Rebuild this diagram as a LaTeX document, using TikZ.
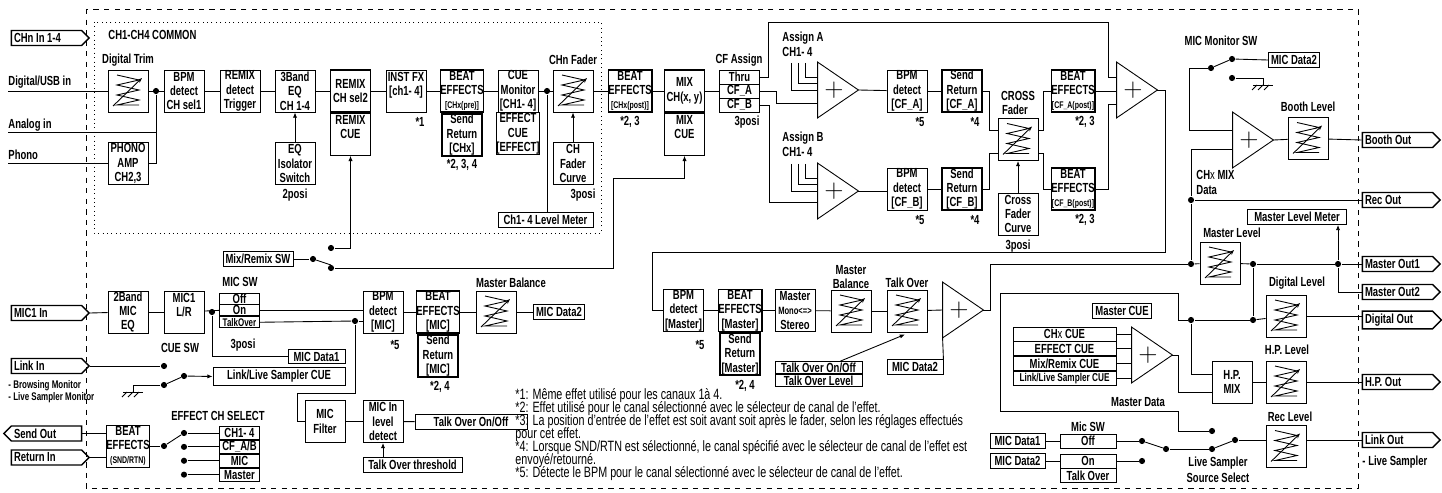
\documentclass[tikz,border=0pt]{standalone}
\usepackage{fontspec}
\setmainfont{Liberation Sans}[FakeStretch=0.72]
\usetikzlibrary{arrows.meta,calc,positioning,shapes.symbols}
\newcommand\fs{\fontsize{7.5}{8.2}\selectfont\bfseries}
\newcommand\tn{\fontsize{5.5}{6}\selectfont}
\newcommand\fnt{\fontsize{8.5}{9}\selectfont}
\newcommand\sumnode[2]{%
  \node[sumbox] (#1) at (#2) {};
  \draw (#1.north west) -- (#1.south west) -- (#1.east) -- cycle;
  \node[font=\Large] at ($(#1.center)+(-4,0)$) {$+$};}
\newcommand\gnd[1]{%
  \draw ($(#1)+(-10,0)$) -- ($(#1)+(10,0)$);
  \foreach \i in {-6,0,6} \draw ($(#1)+(\i,0)$) -- ++(-5,5);}
\tikzset{
  blk/.style={draw, minimum width=0.8cm, minimum height=0.84cm, inner sep=0pt, align=center, font=\fs},
  tblk/.style={blk, line width=1pt},
  row/.style={draw, minimum width=0.8cm, minimum height=0.28cm, inner sep=0pt, font=\fs},
  lab/.style={draw, inner sep=1.5pt, minimum height=0.25cm, font=\fs},
  txt/.style={inner sep=0pt, font=\fs, align=center},
  tag/.style={shape=signal, signal to=east, draw, line width=0.8pt, minimum height=0.3cm,
    text width=1.3cm, inner sep=1.5pt, font=\fs, align=flush left},
  dot/.style={circle, fill, inner sep=0pt, minimum size=3.5pt},
  sumbox/.style={minimum width=0.8cm, minimum height=1.1cm, inner sep=0pt},
  arr/.style={-{Latex[length=3pt,width=2.4pt]}},
  fader/.style={blk, path picture={
    \draw ([shift={(-11,-16)}]path picture bounding box.center) -- ++(22,5) -- ++(-22,5)
      -- ++(22,5) -- ++(-22,5) -- ++(22,5) -- ++(-22,5) -- ++(22,0);
    \draw[-{Stealth[length=3pt]}] ([shift={(-15,15)}]path picture bounding box.center)
      -- ([shift={(14,-13)}]path picture bounding box.center);}},
}
\begin{document}
\begin{tikzpicture}[x=0.02cm, y=-0.02cm, line width=0.5pt]
\useasboundingbox (0,0) rectangle (1442,493);
\draw[dashed] (86,9) rectangle (1358,488);
\draw[dotted] (94,22) rectangle (601,233);

% channel strip
\node[txt, anchor=west] at (108,35) {CH1-CH4 COMMON};
\node[tag] (chin) at (46.5,38) {CHn In 1-4};
\node[txt, anchor=west] at (8,82) {Digital/USB in};
\node[txt, anchor=west] at (8,125) {Analog in};
\node[txt, anchor=west] at (8,155) {Phono};
\coordinate (usbin) at (8,91);
\coordinate (anain) at (8,132);
\coordinate (phin) at (8,163.5);
\node[fader] (dtrim) at (128,91) {};
\node[txt] at (128,60) {Digital Trim};
\node[blk] (phono) at (128,163.5) {PHONO\\AMP\\CH2,3};
\node[dot] (j1) at (156,91) {};
\node[blk] (bpm1) at (184,91) {BPM\\detect\\CH sel1};
\node[blk] (rmxt) at (240,91) {REMIX\\detect\\Trigger};
\node[blk] (eq3) at (295,91) {3Band\\EQ\\CH 1-4};
\node[blk] (eqiso) at (295,163.5) {EQ\\Isolator\\Switch};
\node[txt] at (295,195) {2posi};
\node[tblk] (rmxa) at (350.5,91) {REMIX\\CH sel2};
\node[blk, below=0pt of rmxa] (rmxb) {REMIX\\CUE\\\phantom{X}};
\node[blk] (instfx) at (406,91) {INST FX\\{}[ch1- 4]\\\phantom{X}};
\node[txt] at (420,122) {*1};
\node[tblk] (bfxpre) at (462,91) {BEAT\\EFFECTS\\{\tn[CHx(pre)]}};
\node[tblk, below=0pt of bfxpre] (srpre) {Send\\Return\\{}[CHx]};
\node[txt] at (462,165) {*2, 3, 4};
\node[blk] (cuemon) at (518,91) {CUE\\Monitor\\{}[CH1- 4]};
\node[blk, below=0pt of cuemon] (effcue) {EFFECT\\CUE\\{}[EFFECT]};
\node[dot] (j2) at (547,91) {};
\node[fader] (chfad) at (573,91) {};
\node[txt] at (573,60) {CHn Fader};
\node[blk] (chcurve) at (573,163.5) {CH\\Fader\\Curve};
\node[txt] at (583,195) {3posi};
\node[lab, minimum width=1.9cm] (lvlm) at (545.5,220) {Ch1- 4 Level Meter};
\node[tblk] (bfxpost) at (630,91) {BEAT\\EFFECTS\\{\tn[CHx(post)]}};
\node[txt] at (630,122) {*2, 3};
\node[tblk] (mix) at (684.5,91) {MIX\\CH(x, y)};
\node[blk, below=0pt of mix] (mixcue) {MIX\\CUE\\\phantom{X}};
\node[row] (thru) at (739.5,77) {Thru};
\node[row] (cfA) at (739.5,91) {CF\_A};
\node[row] (cfB) at (739.5,105) {CF\_B};
\node[txt] at (739,60) {CF Assign};
\node[txt] at (747,122) {3posi};

\draw (usbin) -- (dtrim.west);
\draw (anain) -- (anain -| j1);
\draw (phin) -- (phono.west);
\draw (dtrim) -- (bpm1);
\draw (j1) |- (phono.east);
\draw (bpm1) -- (rmxt);
\draw (rmxt) -- (eq3);
\draw (eq3) -- (rmxa);
\draw (rmxa) -- (instfx);
\draw (instfx) -- (bfxpre);
\draw (bfxpre) -- (cuemon);
\draw (cuemon) -- (chfad);
\draw (j2) -- (j2 |- lvlm.north);
\draw (chfad) -- (bfxpost);
\draw (bfxpost) -- (mix);
\draw (mix) -- (cfA);
\draw[arr] (eqiso) -- (eq3);
\draw[arr] (chcurve) -- (chfad);

% crossfader section
\node[txt, anchor=west] at (782,38) {Assign A};
\node[txt, anchor=west] at (782,52) {CH1- 4};
\node[txt, anchor=west] at (782,138) {Assign B};
\node[txt, anchor=west] at (782,152) {CH1- 4};
\sumnode{sumA}{838,90}
\sumnode{sumB}{838,191}
\node[blk] (bpmA) at (907,91) {BPM\\detect\\{}[CF\_A]};
\node[blk] (bpmB) at (907,189) {BPM\\detect\\{}[CF\_B]};
\node[txt] at (920,122) {*5};
\node[txt] at (920,220) {*5};
\node[tblk] (srA) at (962,91) {Send\\Return\\{}[CF\_A]};
\node[tblk] (srB) at (962,189) {Send\\Return\\{}[CF\_B]};
\node[txt] at (975,122) {*4};
\node[txt] at (975,220) {*4};
\node[fader] (xf) at (1018,139.5) {};
\node[txt] at (1018,96) {CROSS};
\node[txt] at (1015,110) {Fader};
\node[blk] (xfc) at (1018,214) {Cross\\Fader\\Curve};
\node[txt] at (1018,246) {3posi};
\node[tblk] (bfxA) at (1073,91) {BEAT\\EFFECTS\\{\tn[CF\_A(post)]}};
\node[tblk] (bfxB) at (1073,189) {BEAT\\EFFECTS\\{\tn[CF\_B(post)]}};
\node[txt] at (1085,122) {*2, 3};
\node[txt] at (1085,220) {*2, 3};
\sumnode{sumM}{1137,90}

\draw (thru.east) -| (768,22) -| ($(sumM.west)+(-8,-13)$) -- ($(sumM.west)+(0,-13)$);
\draw (cfA.east) -| (776,103) -- ($(sumA.west)+(0,13)$);
\draw (cfB.east) -| (769,202) -- ($(sumB.west)+(0,11)$);
\foreach \x/\d in {791/0,798/-7,805/-13} {
  \draw (\x,63) |- ($(sumA.west)+(0,\d)$);
  \draw (\x,164) |- ($(sumB.west)+(0,\d)$);
}
\draw (sumA.east) -- (bpmA);
\draw (sumB.east) -- (bpmB.west |- sumB.east);
\draw (bpmA) -- (srA);
\draw (bpmB) -- (srB);
\draw (srA.east) -| ($(xf.west)+(-8,-9)$) -- ($(xf.west)+(0,-9)$);
\draw (srB.east) -| ($(xf.west)+(-8,14)$) -- ($(xf.west)+(0,14)$);
\draw ($(xf.east)+(0,-9)$) -| ($(bfxA.west)+(-7,0)$) -- (bfxA.west);
\draw ($(xf.east)+(0,14)$) -| ($(bfxB.west)+(-7,0)$) -- (bfxB.west);
\draw[arr] (xfc) -- (xf);
\draw (bfxA.east) -- (bfxA.east -| sumM.west);
\draw (bfxB.east) -| ($(sumM.west)+(-8,14)$) -- ($(sumM.west)+(0,14)$);

% master chain
\node[blk] (bpmM) at (683.5,310.5) {BPM\\detect\\{}[Master]};
\node[txt] at (700,345) {*5};
\node[tblk] (bfxM) at (740,310.5) {BEAT\\EFFECTS\\{}[Master]};
\node[tblk, below=0pt of bfxM] (srM) {Send\\Return\\{}[Master]};
\node[txt] at (745,386) {*2, 4};
\node[blk] (mono) at (795,310.5) {Master\\{\fontsize{6}{7}\selectfont Mono<=>}\\Stereo};
\node[fader] (mbal) at (851,311) {};
\node[txt] at (851,270) {Master};
\node[txt] at (851,284) {Balance};
\node[fader] (tover) at (907,311) {};
\node[txt] at (907,283) {Talk Over};
\node[row, minimum width=1.74cm, minimum height=0.24cm] (tooo) at (818.5,367.5) {Talk Over On/Off};
\node[row, minimum width=1.74cm, minimum height=0.24cm, below=0pt of tooo] (tolvl) {Talk Over Level};
\node[lab, minimum width=1.12cm] (mdata2b) at (915,367) {MIC Data2};
\sumnode{sumT}{963,310}

\draw (sumM.east) -| (1165,252) -| ($(bpmM.west)+(-11,0)$) -- (bpmM.west);
\draw (bpmM) -- (bfxM);
\draw (bfxM) -- (mono);
\draw (mono) -- (mbal);
\draw (mbal) -- (tover);
\draw (tover) -- (sumT.west);
\draw[arr] ($(tooo.north)+(22,0)$) -- ($(tover.south)+(-2,2)$);
\draw (mdata2b.north east) -- (sumT.south west);

% outputs
\node[txt] at (1221,41) {MIC Monitor SW};
\node[dot] (mmp) at (1211,68) {};
\node[dot] (mm1) at (1232,59) {};
\node[dot] (mm2) at (1232,78) {};
\node[lab] (mdata2a) at (1294,60) {MIC Data2};
\coordinate (gm) at (1263,85);
\sumnode{sumBo}{1253,140}
\node[fader] (boothf) at (1308,138.5) {};
\node[txt] at (1308,107) {Booth Level};
\node[tag] (booth) at (1397.5,140) {Booth Out};
\node[txt, anchor=west] at (1196,175) {CH{\mdseries x} MIX};
\node[txt, anchor=west] at (1196,190) {Data};
\node[dot] (jrec) at (1191,200) {};
\node[tag] (rec) at (1397.5,200) {Rec Out};
\node[lab, minimum width=1.98cm] (mlm) at (1297,217) {Master Level Meter};
\node[txt] at (1232,233) {Master Level};
\node[fader] (mlvl) at (1220,263) {};
\node[dot] (jml) at (1191,264) {};
\node[dot] (jmo) at (1253,264) {};
\node[dot] (jmo2) at (1338,264) {};
\node[tag] (mo1) at (1397.5,264) {Master Out1};
\node[tag] (mo2) at (1397.5,292) {Master Out2};
\node[txt] at (1297,283) {Digital Level};
\node[fader] (diglvl) at (1286,316) {};
\node[dot] (jdig) at (1253,320) {};
\node[dot] (jdig2) at (1191,320) {};
\node[tag] (dig) at (1397.5,320) {Digital Out};
\node[lab] (mcue) at (1122,311) {Master CUE};
\node[row, minimum width=2.06cm] (cue1) at (1064.5,334) {CH{\mdseries x} CUE};
\node[row, minimum width=2.06cm, below=0pt of cue1] (cue2) {EFFECT CUE};
\node[row, minimum width=2.06cm, below=0pt of cue2] (cue3) {Mix/Remix CUE};
\node[row, minimum width=2.06cm, below=0pt of cue3] (cue4) {\fontsize{6.5}{7}\selectfont Link/Live Sampler CUE};
\sumnode{sumC}{1152,355}
\node[blk] (hpmix) at (1232,382) {H.P.\\MIX};
\node[txt] at (1287,350) {H.P. Level};
\node[fader] (hplvl) at (1286,382) {};
\node[tag] (hp) at (1397.5,382) {H.P. Out};
\node[txt] at (1138,402) {Master Data};
\node[txt] at (1290,417) {Rec Level};
\node[fader] (reclvl) at (1286,446.5) {};
\node[tag] (link) at (1397.5,440) {Link Out};
\node[txt, anchor=west] at (1362,462) {- Live Sampler};
\node[txt] at (1088,427) {Mic SW};
\node[lab, minimum width=1.1cm] (mdat1) at (1017.5,441) {MIC Data1};
\node[lab, minimum width=1.1cm] (mdat2) at (1017.5,461) {MIC Data2};
\node[row, minimum width=1.12cm] (msoff) at (1088,441) {Off};
\node[row, minimum width=1.12cm] (mson) at (1088,461) {On};
\node[row, minimum width=1.12cm, below=0pt of mson] (mstalk) {Talk Over};
\node[dot] (s1a) at (1142,441) {};
\node[dot] (s1b) at (1142,461) {};
\node[dot] (s1p) at (1166,449) {};
\node[dot] (s2a) at (1212,431) {};
\node[dot] (s2b) at (1212,449) {};
\node[dot] (s2p) at (1235,440) {};
\node[txt] at (1218,463) {Live Sampler};
\node[txt] at (1218,478) {Source Select};

\draw (sumT.east) -| (990,264) -- (jml);
\draw (jml) -- (mlvl);
\draw (mlvl) -- (jmo);
\draw (jmo) -- (jmo2);
\draw (jmo2) -- (mo1.west);
\draw (jmo2) |- (mo2.west);
\draw[arr] (jmo2) -- (mlm.south -| jmo2);
\draw (jmo) -- (jdig);
\draw (jml) -- (jrec);
\draw (jrec) |- ($(sumBo.west)+(0,9)$);
\draw (jrec) -- (rec.west);
\draw (mmp) -- (mm1);
\draw (mm1) -- (mdata2a.west);
\draw (mm2) -| (gm);
\gnd{gm}
\draw (mmp) -| ($(sumBo.west)+(-43,-10)$) -- ($(sumBo.west)+(0,-10)$);
\draw (sumBo.east) -- (boothf);
\draw (boothf) -- (booth.west);
\draw (jdig2) -- (jdig);
\draw (jdig) -- (diglvl);
\draw (diglvl) -- (dig.west |- diglvl);
\draw (jdig2) -| (1178,293) -| (1000,411) -| (1178,431) -- (s2a);
\draw (jdig2) |- ($(hpmix.west)+(0,-8)$);
\foreach \r in {cue1,cue2,cue3,cue4} \draw (\r.east) -- (\r.east -| sumC.west);
\draw (sumC.east) -| (1178,392) -- ($(hpmix.west)+(0,10)$);
\draw (hpmix) -- (hplvl);
\draw (hplvl) -- (hp.west);
\draw (mdat1) -- (msoff);
\draw (mdat2) -- (mson);
\draw (msoff.east) -- (s1a);
\draw (mson.east) -- (s1b);
\draw (s1a) -- (s1p);
\draw (s1p) -- (s2b);
\draw (s2b) -- (s2p);
\draw (s2p) -- (s2p -| reclvl.west);
\draw (reclvl.east |- link.west) -- (link.west);

% mic section
\node[tag] (mic1in) at (46.5,313) {MIC1 In};
\node[blk] (eq2) at (128,312) {2Band\\MIC\\EQ};
\node[blk] (miclr) at (184,312) {MIC1\\L/R\\\phantom{X}};
\node[dot] (jmic) at (212,312) {};
\node[txt] at (240,282) {MIC SW};
\node[row, minimum height=0.22cm] (off) at (239.5,298.5) {Off};
\node[row, minimum height=0.22cm, below=0pt of off] (on) {On};
\node[row, minimum height=0.22cm, below=0pt of on] (tkov) {\fontsize{6.3}{7}\selectfont TalkOver};
\node[txt] at (243,345) {3posi};
\node[lab, minimum width=1.14cm] (mdata1) at (316.5,356.5) {MIC Data1};
\node[dot] (jtk) at (355,321) {};
\node[blk] (bpmmic) at (383,312) {BPM\\detect\\{}[MIC]};
\node[txt] at (395,345) {*5};
\node[tblk] (bfxmic) at (438,312) {BEAT\\EFFECTS\\{}[MIC]};
\node[tblk, below=0pt of bfxmic] (srmic) {Send\\Return\\{}[MIC]};
\node[txt] at (440,387) {*2, 4};
\node[fader] (mbalmic) at (496,312) {};
\node[txt] at (511,283) {Master Balance};
\node[lab] (mdata2c) at (559,312) {MIC Data2};
\node[blk] (micfilt) at (325,421.5) {MIC\\Filter};
\node[blk] (micdet) at (383,421.5) {MIC In\\level\\detect};
\node[lab, minimum width=1.98cm] (tothr) at (412.5,465) {Talk Over threshold};
\node[lab, minimum width=2.24cm] (toonoff) at (471,422) {Talk Over On/Off};
\node[lab] (mixsw) at (258,259) {Mix/Remix SW};
\node[dot] (msw0) at (313,259) {};
\node[dot] (msw1) at (331,248) {};
\node[dot] (msw2) at (331,268) {};

\draw (mic1in.east) -- (eq2);
\draw (eq2) -- (miclr);
\draw (miclr) -- (on.west -| off.west);
\draw (jmic) |- (mdata1.west);
\draw (on.east) -- (bpmmic.west |- on.east);
\draw (tkov.east) -- (jtk);
\draw (jtk) -- (bpmmic.west |- jtk);
\draw (jtk) |- (297,393) |- (micfilt.west);
\draw (micfilt) -- (micdet);
\draw (micdet) -- (toonoff);
\draw[arr] (tothr.north -| micdet) -- (micdet.south);
\draw (bpmmic) -- (bfxmic);
\draw (bfxmic) -- (mbalmic);
\draw (mbalmic) -- (mdata2c);
\draw (mixsw) -- (msw0);
\draw (msw0) -- ($(msw2)+(0,-3)$);
\draw[arr] (msw1) -| (rmxb.south);
\draw[arr] (msw2) -| (613,178) -| (mixcue.south);

% link / send-return
\node[tag] (linkin) at (46.5,366) {Link In};
\node[txt, anchor=west, font=\fontsize{6.3}{7}\selectfont\bfseries] at (8,386) {- Browsing Monitor};
\node[txt, anchor=west, font=\fontsize{6.3}{7}\selectfont\bfseries] at (8,398) {- Live Sampler Monitor};
\node[txt] at (180,348) {CUE SW};
\node[dot] (c1) at (164,366) {};
\node[dot] (c2) at (164,385) {};
\node[dot] (cp) at (184,376) {};
\coordinate (gc) at (133,392);
\node[lab, minimum width=2.64cm] (lscue) at (279,376.5) {Link/Live Sampler CUE};
\node[tag, signal to=west] (sendout) at (46.5,433.5) {Send Out};
\node[tag] (retin) at (46.5,457.5) {Return In};
\node[blk] (bfxsr) at (128,446) {BEAT\\EFFECTS\\{\tn(SND/RTN)}};
\node[txt] at (218,416) {EFFECT CH SELECT};
\node[dot] (e0) at (164,446) {};
\node[row, minimum height=0.26cm] (ech1) at (239.5,433) {CH1- 4};
\node[row, minimum height=0.26cm, below=0pt of ech1] (ech2) {CF\_A/B};
\node[row, minimum height=0.26cm, below=0pt of ech2] (ech3) {MIC};
\node[row, minimum height=0.26cm, below=0pt of ech3] (ech4) {Master};

\draw (linkin.east) -- (c1);
\draw (c2) -- (cp);
\draw[arr] (cp) -- (lscue.west);
\draw (c2) -| (gc);
\gnd{gc}
\draw (sendout.east) -- (sendout.east -| bfxsr.west);
\draw (retin.east) -- (retin.east -| bfxsr.west);
\draw (bfxsr) -- (e0);
\foreach \r in {ech1,ech2,ech3,ech4} {
  \node[dot] (d\r) at (184,0 |- \r.west) {};
  \draw (d\r) -- (\r.west);
}
\draw (e0) -- (dech1);

% notes
\foreach \t [count=\i from 0] in {%
  {*1: Même effet utilisé pour les canaux 1à 4.},
  {*2: Effet utilisé pour le canal sélectionné avec le sélecteur de canal de l’effet.},
  {*3: La position d’entrée de l’effet est soit avant soit après le fader, selon les réglages effectués},
  {pour cet effet.},
  {*4: Lorsque SND/RTN est sélectionné, le canal spécifié avec le sélecteur de canal de l’effet  est},
  {envoyé/retourné.},
  {*5: Détecte le BPM pour le canal sélectionné avec le sélecteur de canal de l’effet.}}
  \node[anchor=west, inner sep=0pt, font=\fnt] at (515,396+13*\i) {\t};
\end{tikzpicture}
\end{document}
